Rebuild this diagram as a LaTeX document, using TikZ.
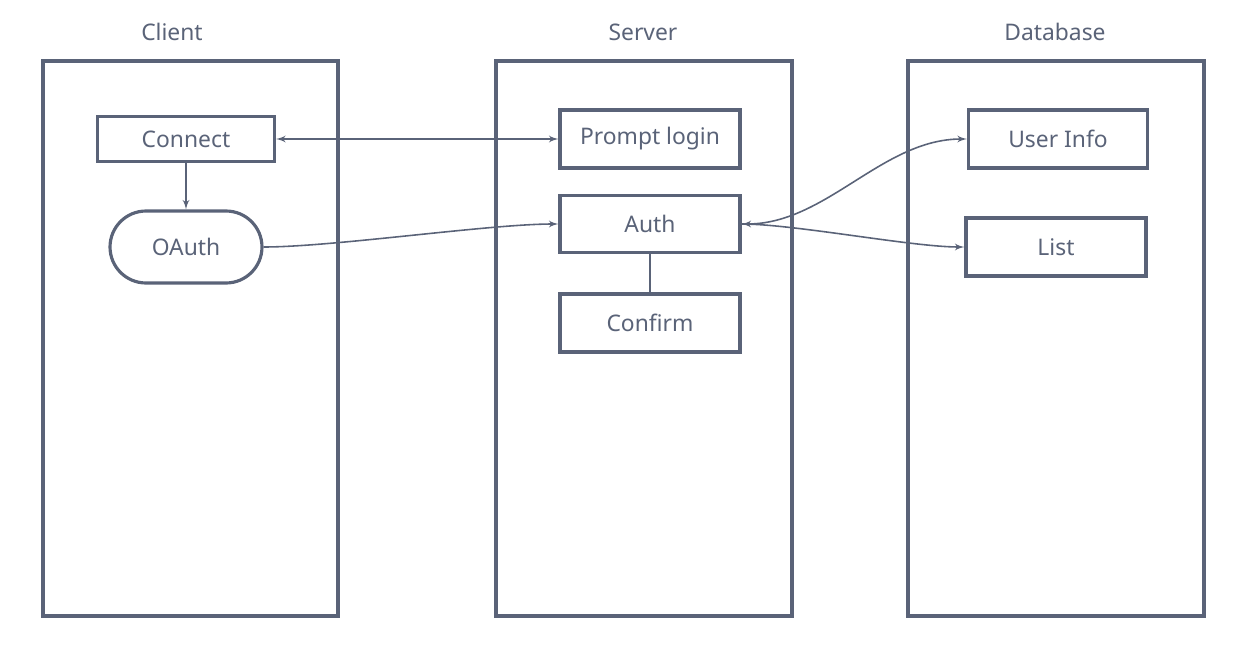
\documentclass[tikz,border=0pt]{standalone}
\usepackage{fontspec}
\setmainfont{Noto Sans}
\usepackage{tikz}
\usetikzlibrary{arrows}
\usetikzlibrary{shapes.misc}
\definecolor{slate}{HTML}{5A6378}

\begin{document}
\begin{tikzpicture}[>=latex',x=0.02cm,y=-0.02cm,
	lane/.style={draw=slate,line width=1.8pt},
	box/.style={draw=slate,line width=1.8pt,minimum width=3.6cm,minimum height=1.16cm,inner sep=0pt,text=slate,font=\fontsize{13}{15}\selectfont},
	title/.style={text=slate,font=\fontsize{13}{15}\selectfont},
	link/.style={draw=slate,line width=0.9pt}]
	\useasboundingbox (0,0) rectangle (1242,656);
	% lanes
	\draw[lane] (43,61) rectangle (338,616);
	\draw[lane] (496,61) rectangle (792,616);
	\draw[lane] (908,61) rectangle (1204,616);
	\node[title] (client) at (172,32) {Client};
	\node[title] (server) at (643,32) {Server};
	\node[title] (database) at (1055,32) {Database};
	% client
	\node[box,minimum width=3.54cm,minimum height=0.9cm] (connect) at (186,139) {Connect};
	\node[box,rounded rectangle,minimum width=3.04cm,minimum height=1.44cm] (oauth) at (186,247) {OAuth};
	% server
	\node[box] (prompt) at (650,139) {Prompt login};
	\node[box,minimum height=1.14cm] (auth) at (650,224) {Auth};
	\node[box] (confirm) at (650,323) {Confirm};
	% database
	\node[box,minimum width=3.58cm] (userinfo) at (1058,139) {User Info};
	\node[box] (list) at (1056,247) {List};
	% links
	\draw[link,<->] (connect.east) -- (prompt.west);
	\draw[link,->] (connect.south) -- (oauth.north);
	\draw[link,->] (oauth.east) to[out=0,in=180,looseness=0.6] (auth.west);
	\draw[link] (auth.south) -- (confirm.north);
	\draw[link,<->] (auth.east) to[out=0,in=180,looseness=0.9] (userinfo.west);
	\draw[link,->] (auth.east) to[out=0,in=180,looseness=0.6] (list.west);
\end{tikzpicture}
\end{document}
